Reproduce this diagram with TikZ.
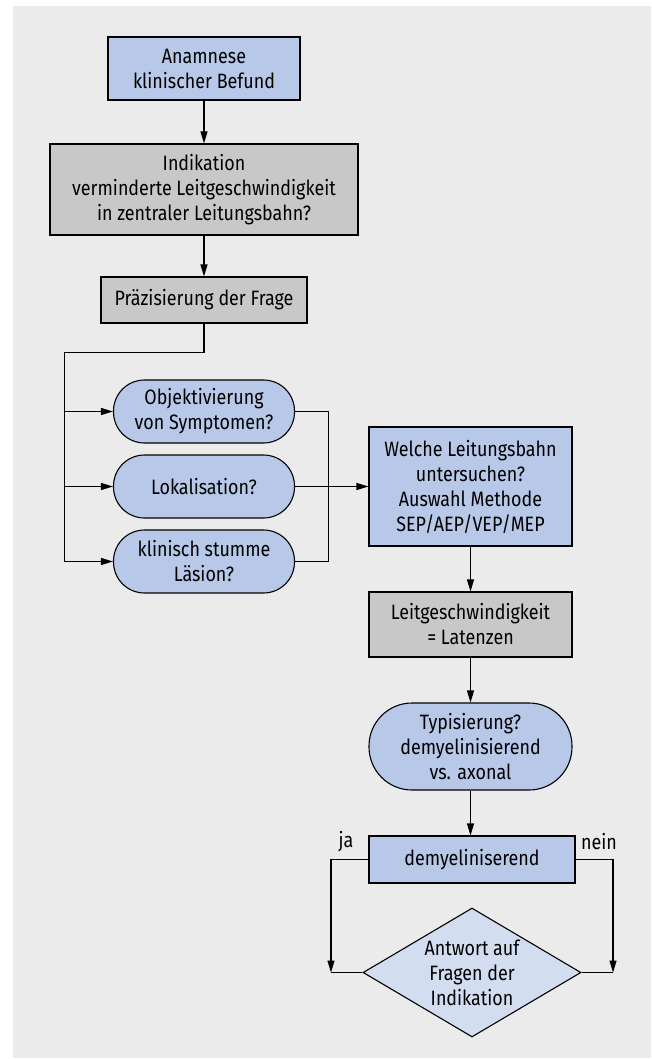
\documentclass[tikz,border=0pt]{standalone}
\usepackage{fontspec}
\setmainfont[FakeStretch=0.86]{Fira Sans}
\usetikzlibrary{arrows.meta,shapes.geometric}
\definecolor{bgc}{HTML}{EBEBEB}
\definecolor{bluefill}{HTML}{B8C8E8}
\definecolor{grayfill}{HTML}{C8C8C8}
\definecolor{diafill}{HTML}{D3DDF0}
\tikzset{
  base/.style={draw=black, line width=1.1pt, align=center, inner sep=0pt,
    font=\fontsize{20.8}{25}\selectfont},
  bluebox/.style={base, rectangle, fill=bluefill},
  graybox/.style={base, rectangle, fill=grayfill},
  pill/.style={base, rectangle, rounded corners=#1, fill=bluefill},
  decision/.style={base, diamond, fill=diafill, shape aspect=1.69, inner sep=-8pt},
  conn/.style={line width=1.1pt, draw=black},
  arr/.style={conn, -{Triangle[length=12pt,width=7pt]}},
  lbl/.style={font=\fontsize{20.8}{25}\selectfont, inner sep=0pt}
}
\begin{document}
\begin{tikzpicture}[x=1pt,y=-1pt]
\useasboundingbox (0,0) rectangle (651,1059);
\fill[bgc] (12.5,6) rectangle (651,1058);

\node[bluebox, minimum width=192pt, minimum height=63pt] (a) at (204,68.5) {Anamnese\\klinischer Befund};
\node[graybox, minimum width=308pt, minimum height=91pt] (b) at (204,189.5) {Indikation\\verminderte Leitgeschwindigkeit\\in zentraler Leitungsbahn?};
\node[graybox, minimum width=206pt, minimum height=46pt] (c) at (204,300) {Präzisierung der Frage};

\node[pill=31pt, minimum width=181pt, minimum height=63pt] (o1) at (204,411.5) {Objektivierung\\von Symptomen?};
\node[pill=31pt, minimum width=181pt, minimum height=63pt] (o2) at (204,486.5) {Lokalisation?};
\node[pill=31pt, minimum width=181pt, minimum height=63pt] (o3) at (204,561.5) {klinisch stumme\\Läsion?};

\node[bluebox, minimum width=203pt, minimum height=119pt] (d) at (470.5,486.5) {Welche Leitungsbahn\\untersuchen?\\Auswahl Methode\\SEP/AEP/VEP/MEP};
\node[graybox, minimum width=203pt, minimum height=65pt] (e) at (470.5,624.5) {Leitgeschwindigkeit\\= Latenzen};
\node[pill=43pt, minimum width=203pt, minimum height=87pt] (f) at (470.5,746.5) {Typisierung?\\demyelinisierend\\vs. axonal};
\node[bluebox, minimum width=206pt, minimum height=47pt] (g) at (472,859.5) {demyeliniserend};
\node[decision, minimum width=218pt, minimum height=129pt] (h) at (472,972.5) {Antwort auf\\Fragen der\\Indikation};

\node[lbl] (ja) at (346,842) {ja};
\node[lbl] (nein) at (599,842) {nein};

\coordinate (split) at (64.5,352.5);
\coordinate (join) at (328.5,486.5);
\coordinate (jaC) at (331,972.5);
\coordinate (neinC) at (613,972.5);

\draw[arr] (a) -- (b);
\draw[arr] (b) -- (c);
\draw[conn] (c.south) |- (split) -- (split |- o3.west);
\draw[arr] (split |- o1.west) -- (o1.west);
\draw[arr] (split |- o2.west) -- (o2.west);
\draw[arr] (split |- o3.west) -- (o3.west);
\draw[conn] (o1.east) -| (join) |- (o3.east);
\draw[arr] (o2.east) -- (d.west);
\draw[arr] (d) -- (e);
\draw[arr] (e) -- (f);
\draw[arr] (f.south) -- (f.south |- g.north);
\draw[arr] (g.west) -| (jaC);
\draw[conn] (jaC) -- (h.west);
\draw[arr] (g.east) -| (neinC);
\draw[conn] (neinC) -- (h.east);
\end{tikzpicture}
\end{document}
